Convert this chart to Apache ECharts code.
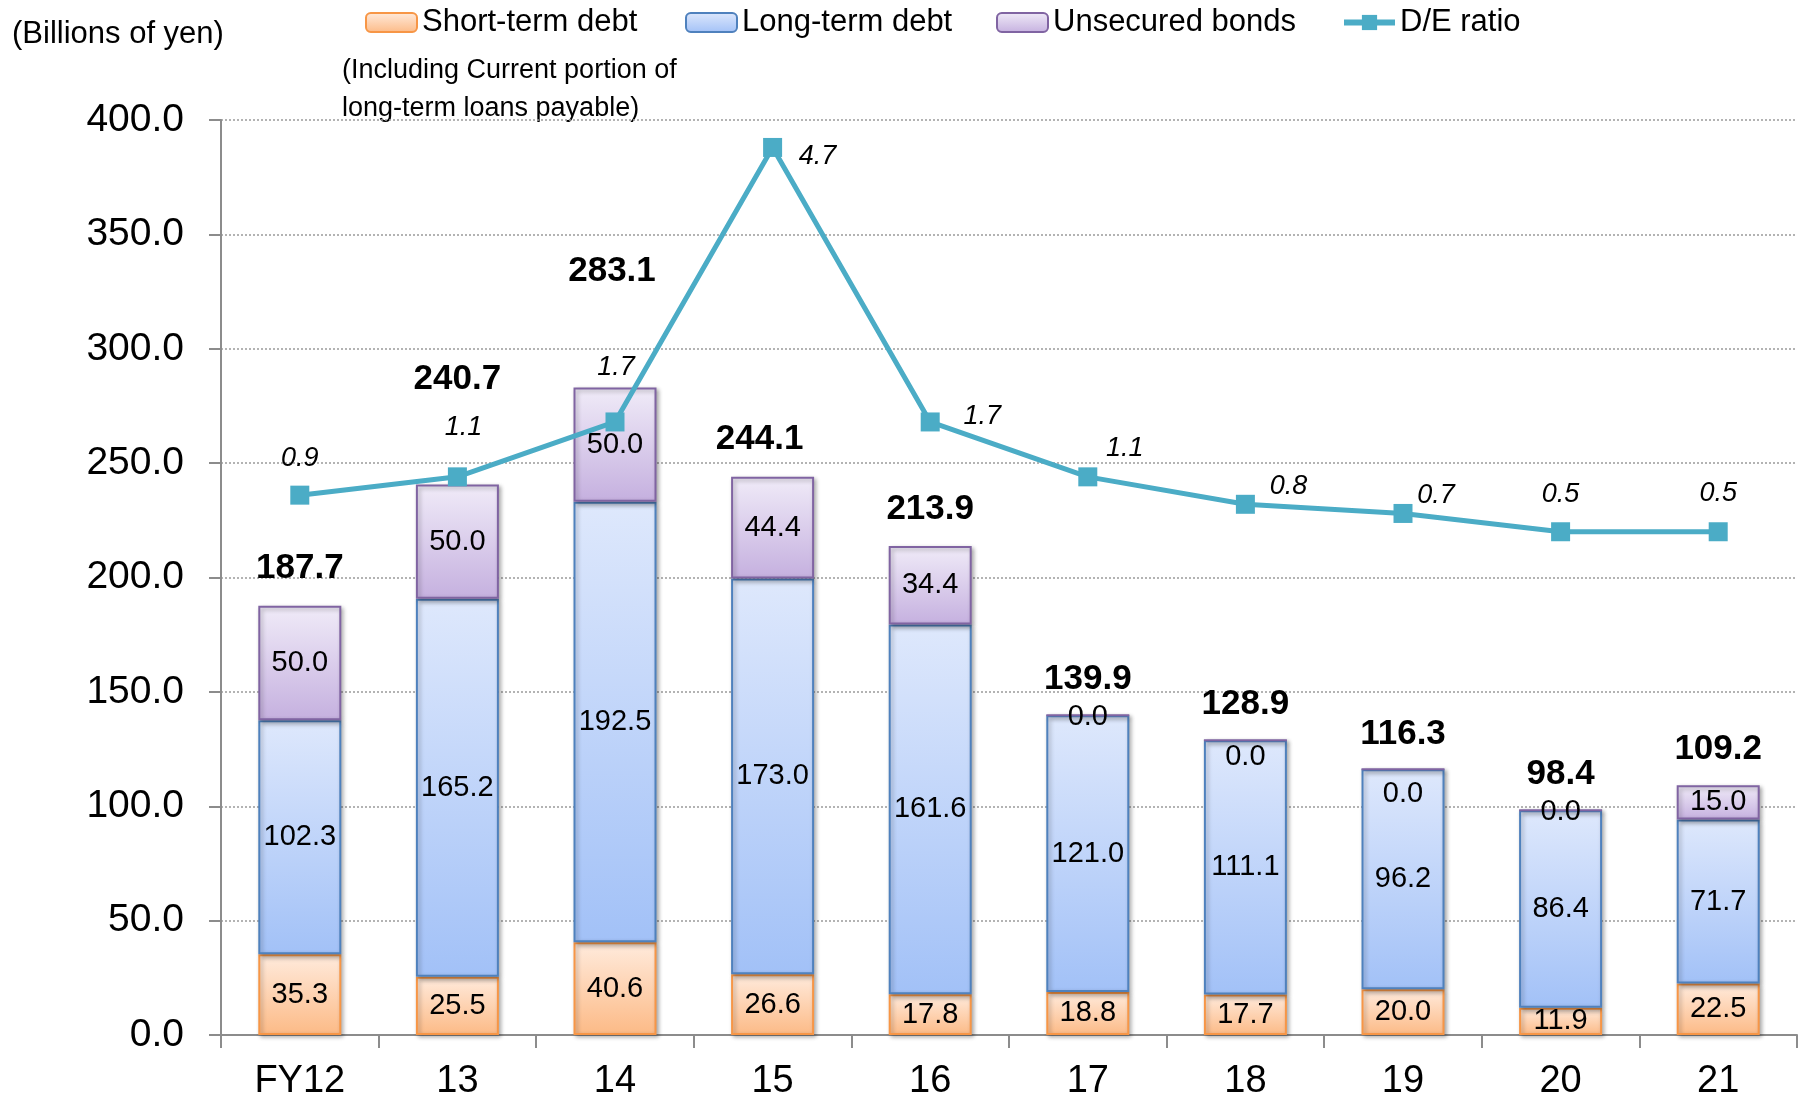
<!DOCTYPE html>
<html>
<head>
<meta charset="utf-8">
<script src="https://cdn.jsdelivr.net/npm/echarts@6/dist/echarts.min.js"></script>
<style>
html,body{margin:0;padding:0;background:#fff;}
#c{width:1803px;height:1106px;}
</style>
</head>
<body>
<div id="c"></div>
<script>
const categories = ['FY12','13','14','15','16','17','18','19','20','21'];
const shortTerm = [35.3, 25.5, 40.6, 26.6, 17.8, 18.8, 17.7, 20.0, 11.9, 22.5];
const longTerm = [102.3, 165.2, 192.5, 173.0, 161.6, 121.0, 111.1, 96.2, 86.4, 71.7];
const bonds = [50.0, 50.0, 50.0, 44.4, 34.4, 0.0, 0.0, 0.0, 0.0, 15.0];
const totals = [187.7, 240.7, 283.1, 244.1, 213.9, 139.9, 128.9, 116.3, 98.4, 109.2];
const deRatio = [0.9, 1.1, 1.7, 4.7, 1.7, 1.1, 0.8, 0.7, 0.5, 0.5];
const yTicks = [0, 50, 100, 150, 200, 250, 300, 350, 400];
const seriesNames = ['Short-term debt','Long-term debt','Unsecured bonds','D/E ratio'];

const FONT = "'Liberation Sans Narrow','Arial Narrow','Liberation Sans',Arial,sans-serif";

// label placement (style, not data)
const deOffsets = [[0,-37],[6,-49],[1,-54],[45,9],[52,-5],[37,-28],[43,-18],[33,-18],[0,-37],[0,-38]];
const totalOffsets = [[0,-37],[0,-105],[-3,-116],[-13,-37],[0,-36],[0,-36],[0,-36],[0,-35],[0,-36],[0,-36]];
const bondLabelOffsets = [[0,0],[0,0],[0,0],[0,0],[0,0],[0,2],[0,17],[0,25],[0,2],[0,0]];
const legendLefts = [360, 680, 991, 1336];

function grad(top, bottom){
  return {type:'linear',x:0,y:0,x2:0,y2:1,colorStops:[{offset:0,color:top},{offset:1,color:bottom}]};
}
const shadow = {shadowColor:'rgba(0,0,0,0.3)', shadowBlur:4, shadowOffsetX:2, shadowOffsetY:2};
const barLabel = {show:true, position:'inside', color:'#000', fontFamily:FONT, fontSize:29,
  formatter: p => p.value.toFixed(1)};

const chart = echarts.init(document.getElementById('c'), null, {renderer:'canvas'});
chart.setOption({
  animation:false,
  backgroundColor:'#fff',
  grid:{left:221, right:6, top:120, bottom:71},
  legend: seriesNames.map((n,i)=>({
    data:[ i===3 ? {name:n, lineStyle:{width:6}, itemStyle:{color:'#4BACC6'}} : n ],
    left:legendLefts[i], top:2, itemWidth:51, itemHeight:19,
    textStyle:{fontFamily:FONT, fontSize:31, color:'#000'}
  })),
  graphic:[
    {type:'text', left:12, top:19, style:{text:'(Billions of yen)', fontFamily:FONT, fontSize:31, fill:'#000'}},
    {type:'text', left:342, top:52, style:{text:'(Including Current portion of\nlong-term loans payable)', fontFamily:FONT, fontSize:27, lineHeight:38, fill:'#000'}}
  ],
  xAxis:{
    type:'category', data:categories,
    axisLine:{lineStyle:{color:'#8c8c8c', width:2}},
    axisTick:{show:true, length:13, lineStyle:{color:'#8c8c8c', width:2}},
    axisLabel:{color:'#000', fontFamily:FONT, fontSize:38, margin:28}
  },
  yAxis:[{
    type:'value', min:yTicks[0], max:yTicks[yTicks.length-1], interval:50,
    axisLine:{show:true, lineStyle:{color:'#8c8c8c', width:2}},
    axisTick:{show:true, length:12, lineStyle:{color:'#8c8c8c', width:2}},
    axisLabel:{color:'#000', fontFamily:FONT, fontSize:39, margin:37, formatter:v=>v.toFixed(1)},
    splitLine:{show:true, lineStyle:{color:'#9a9a9a', width:1.5, type:[2,2]}}
  },{
    type:'value', min:-5, max:5, show:false, splitLine:{show:false}
  }],
  series:[
    {name:seriesNames[0], type:'bar', stack:'debt', data:shortTerm, barWidth:83,
      itemStyle:Object.assign({color:grad('#FFEBDD','#FCBA86'), borderColor:'#F79646', borderWidth:2}, shadow),
      label:barLabel},
    {name:seriesNames[1], type:'bar', stack:'debt', data:longTerm, barWidth:83,
      itemStyle:Object.assign({color:grad('#DEE8FC','#A2C1F7'), borderColor:'#4F81BD', borderWidth:2}, shadow),
      label:barLabel},
    {name:seriesNames[2], type:'bar', stack:'debt', barWidth:83,
      data:bonds.map((v,i)=>({value:v, label:{offset:bondLabelOffsets[i]}})),
      itemStyle:Object.assign({color:grad('#F0EBF8','#C5B0DF'), borderColor:'#8064A2', borderWidth:2}, shadow),
      label:barLabel},
    {name:'Totals', type:'line', data:totals.map((v,i)=>({value:v, label:{offset:totalOffsets[i]}})),
      lineStyle:{color:'rgba(0,0,0,0)', width:0}, symbol:'circle', symbolSize:2,
      itemStyle:{color:'rgba(0,0,0,0)'}, z:5, silent:true,
      label:{show:true, position:'inside', color:'#000', fontFamily:FONT, fontWeight:'bold', fontSize:35,
        formatter:p=>p.value.toFixed(1)}},
    {name:seriesNames[3], type:'line', yAxisIndex:1, data:deRatio.map((v,i)=>({value:v, label:{offset:deOffsets[i]}})),
      symbol:'rect', symbolSize:19, z:10,
      lineStyle:{color:'#4BACC6', width:5}, itemStyle:{color:'#4BACC6'},
      label:{show:true, position:'inside', color:'#000', fontFamily:FONT, fontStyle:'italic', fontSize:27,
        formatter:p=>p.value.toFixed(1)}}
  ]
});
</script>
</body>
</html>
